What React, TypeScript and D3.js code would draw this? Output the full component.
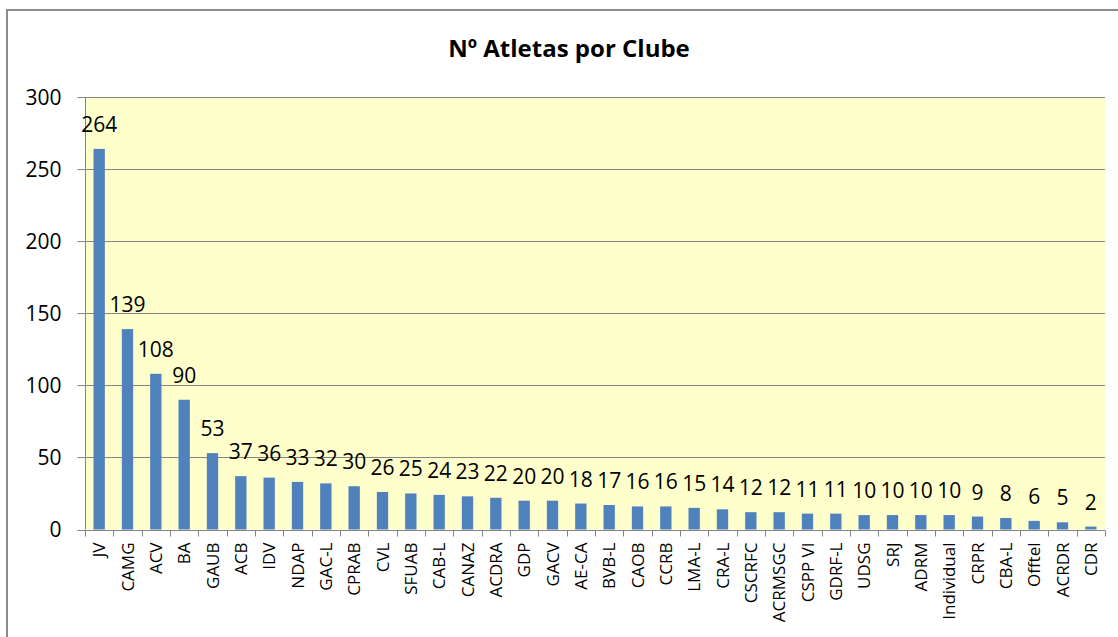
import * as d3 from "d3";
import { useEffect, useRef } from "react";

const clubes = [
  "JV", "CAMG", "ACV", "BA", "GAUB", "ACB", "IDV", "NDAP", "GAC-L", "CPRAB",
  "CVL", "SFUAB", "CAB-L", "CANAZ", "ACDRA", "GDP", "GACV", "AE-CA", "BVB-L", "CAOB",
  "CCRB", "LMA-L", "CRA-L", "CSCRFC", "ACRMSGC", "CSPP VI", "GDRF-L", "UDSG", "SRJ", "ADRM",
  "Individual", "CRPR", "CBA-L", "Offtel", "ACRDR", "CDR",
];
const atletas = [
  264, 139, 108, 90, 53, 37, 36, 33, 32, 30,
  26, 25, 24, 23, 22, 20, 20, 18, 17, 16,
  16, 15, 14, 12, 12, 11, 11, 10, 10, 10,
  10, 9, 8, 6, 5, 2,
];
const yTicks = [0, 50, 100, 150, 200, 250, 300];
const title = "Nº Atletas por Clube";

const W = 1118;
const H = 637;
const FONT = "'Open Sans', 'Liberation Sans', sans-serif";
const GREY = "#848484";

const App = () => {
  const ref = useRef<SVGSVGElement>(null);

  useEffect(() => {
    const svg = d3.select(ref.current);
    svg.selectAll("*").remove();

    const data = clubes.map((name, i) => ({ name, value: atletas[i] }));
    const plot = { left: 85, right: 1105, top: 97, bottom: 529.5 };

    // outer chart border
    svg.append("rect")
      .attr("x", 7).attr("y", 10)
      .attr("width", W + 20).attr("height", H + 20)
      .attr("fill", "#fff")
      .attr("stroke", "#8c8c8c")
      .attr("stroke-width", 2);

    svg.append("text")
      .attr("x", 569).attr("y", 57)
      .attr("text-anchor", "middle")
      .style("font-family", FONT)
      .style("font-size", "24px")
      .style("font-weight", "bold")
      .text(title);

    const x = d3.scaleBand()
      .domain(clubes)
      .range([plot.left, plot.right])
      .paddingInner(0.6)
      .paddingOuter(0.3);
    const y = d3.scaleLinear().domain([0, 300]).range([plot.bottom, plot.top]);

    // plot area
    svg.append("rect")
      .attr("x", plot.left).attr("y", plot.top)
      .attr("width", plot.right - plot.left)
      .attr("height", plot.bottom - plot.top)
      .attr("fill", "#ffffcc");

    // gridlines
    svg.append("g")
      .selectAll("line")
      .data(yTicks.slice(1))
      .join("line")
      .attr("x1", plot.left).attr("x2", plot.right)
      .attr("y1", (d) => Math.round(y(d)) + 0.5)
      .attr("y2", (d) => Math.round(y(d)) + 0.5)
      .attr("stroke", GREY);

    // y axis
    const yAxis = svg.append("g").attr("transform", `translate(${plot.left + 0.5},0)`);
    yAxis.append("line")
      .attr("y1", plot.top).attr("y2", plot.bottom)
      .attr("stroke", GREY);
    yAxis.selectAll("line.tick")
      .data(yTicks)
      .join("line")
      .attr("class", "tick")
      .attr("x1", -8).attr("x2", 0)
      .attr("y1", (d) => Math.round(y(d)) + 0.5)
      .attr("y2", (d) => Math.round(y(d)) + 0.5)
      .attr("stroke", GREY);
    yAxis.selectAll("text")
      .data(yTicks)
      .join("text")
      .attr("x", -24)
      .attr("y", (d) => y(d))
      .attr("dy", "0.36em")
      .attr("text-anchor", "end")
      .style("font-family", FONT)
      .style("font-size", "21px")
      .text((d) => d);

    // bars
    svg.append("g")
      .selectAll("rect")
      .data(data)
      .join("rect")
      .attr("x", (d) => x(d.name)!)
      .attr("y", (d) => y(d.value))
      .attr("width", x.bandwidth())
      .attr("height", (d) => plot.bottom - y(d.value))
      .attr("fill", "#4f81bd");

    // data labels
    svg.append("g")
      .selectAll("text")
      .data(data)
      .join("text")
      .attr("x", (d) => x(d.name)! + x.bandwidth() / 2)
      .attr("y", (d) => y(d.value) - 17)
      .attr("text-anchor", "middle")
      .style("font-family", FONT)
      .style("font-size", "21px")
      .text((d) => d.value);

    // x axis
    const xAxis = svg.append("g").attr("transform", `translate(0,${Math.round(plot.bottom) + 0.5})`);
    xAxis.append("line")
      .attr("x1", plot.left).attr("x2", plot.right)
      .attr("stroke", GREY);
    xAxis.selectAll("line.tick")
      .data(d3.range(clubes.length + 1))
      .join("line")
      .attr("class", "tick")
      .attr("x1", (i) => Math.round(plot.left + i * x.step()) + 0.5)
      .attr("x2", (i) => Math.round(plot.left + i * x.step()) + 0.5)
      .attr("y1", 0).attr("y2", 6)
      .attr("stroke", GREY);
    xAxis.selectAll("text")
      .data(clubes)
      .join("text")
      .attr("transform", (d) => `translate(${x(d)! + x.bandwidth() / 2},12) rotate(-90)`)
      .attr("dy", "0.36em")
      .attr("text-anchor", "end")
      .style("font-family", FONT)
      .style("font-size", "17px")
      .text((d) => d);
  }, []);

  return (
    <svg
      ref={ref}
      width={W}
      height={H}
      style={{ position: "absolute", left: 0, top: 0, background: "#fff" }}
    />
  );
};

export default App;
